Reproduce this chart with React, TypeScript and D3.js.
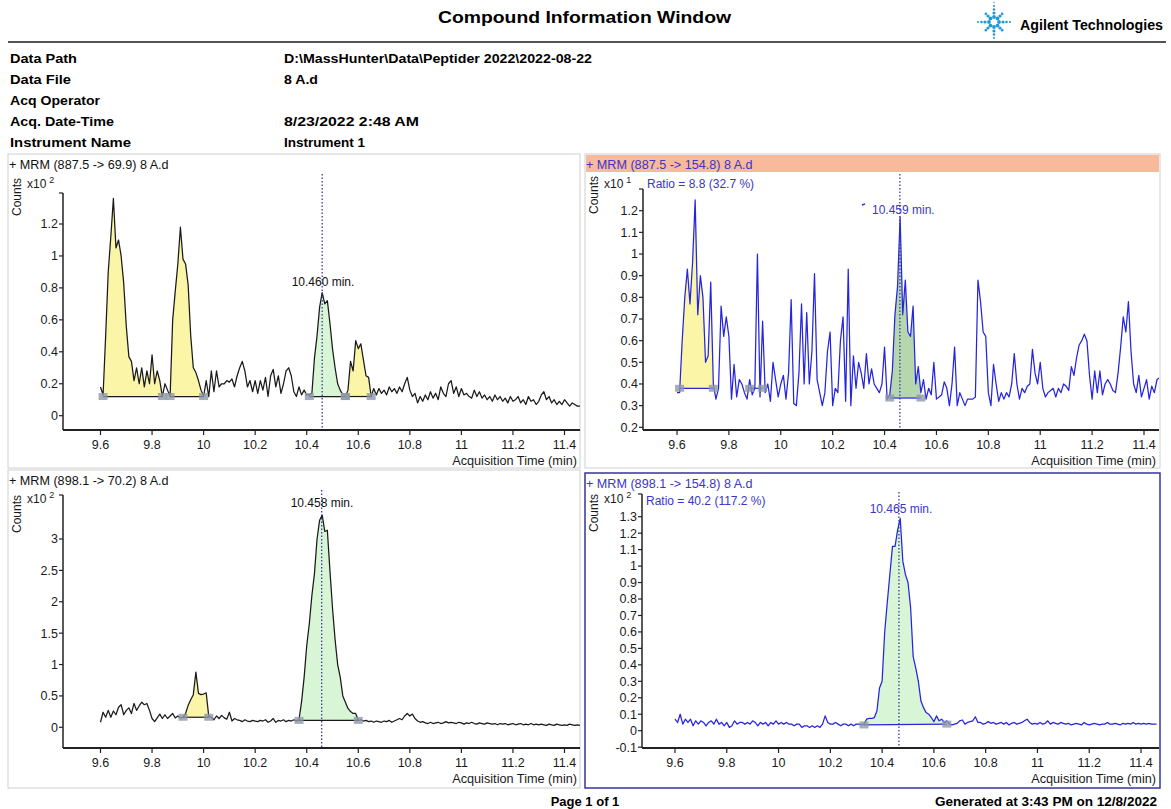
import React from 'react';
import * as d3 from 'd3';

// acquisition grid of the four MRM traces
const SCAN_START = 9.6;
const SCAN_STEP = 0.01;

// + MRM (887.5 -> 69.9), counts x10^2
const mrm887to69 = [
  0.18, 0.13, 0.50, 0.90, 1.12, 1.36, 1.05, 1.10, 1.00, 0.83,
  0.56, 0.37, 0.34, 0.22, 0.30, 0.20, 0.30, 0.18, 0.28, 0.20,
  0.38, 0.20, 0.28, 0.22, 0.12, 0.20, 0.16, 0.12, 0.60, 0.78,
  0.95, 1.18, 0.98, 0.95, 0.82, 0.50, 0.30, 0.27, 0.22, 0.16,
  0.12, 0.22, 0.12, 0.28, 0.15, 0.28, 0.18, 0.20, 0.20, 0.22,
  0.21, 0.23, 0.18, 0.25, 0.30, 0.34, 0.28, 0.18, 0.22, 0.15,
  0.22, 0.14, 0.22, 0.16, 0.24, 0.12, 0.25, 0.29, 0.18, 0.25,
  0.14, 0.20, 0.28, 0.30, 0.25, 0.15, 0.12, 0.18, 0.13, 0.16,
  0.13, 0.13, 0.14, 0.36, 0.50, 0.68, 0.77, 0.70, 0.72, 0.58,
  0.42, 0.30, 0.20, 0.16, 0.13, 0.12, 0.16, 0.34, 0.28, 0.47,
  0.42, 0.45, 0.35, 0.25, 0.24, 0.12, 0.17, 0.13, 0.17, 0.14,
  0.16, 0.13, 0.18, 0.15, 0.17, 0.14, 0.18, 0.15, 0.20, 0.24,
  0.16, 0.12, 0.14, 0.08, 0.12, 0.09, 0.13, 0.10, 0.15, 0.11,
  0.14, 0.10, 0.18, 0.14, 0.12, 0.20, 0.22, 0.14, 0.18, 0.12,
  0.17, 0.13, 0.14, 0.12, 0.11, 0.16, 0.12, 0.15, 0.11, 0.13,
  0.10, 0.12, 0.09, 0.13, 0.10, 0.12, 0.09, 0.11, 0.08, 0.12,
  0.09, 0.10, 0.12, 0.08, 0.10, 0.07, 0.12, 0.09, 0.10, 0.07,
  0.09, 0.13, 0.15, 0.10, 0.12, 0.08, 0.10, 0.07, 0.09, 0.07,
  0.10, 0.08, 0.06, 0.08, 0.07, 0.06, 0.06,
];

// + MRM (887.5 -> 154.8), counts x10^1
const mrm887to154 = [
  0.36, 0.36, 0.60, 0.80, 0.93, 0.77, 0.96, 1.25, 0.72, 0.90,
  0.80, 0.50, 0.53, 0.87, 0.40, 0.33, 0.38, 0.76, 0.62, 0.71,
  0.62, 0.33, 0.49, 0.34, 0.42, 0.40, 0.36, 0.33, 0.42, 0.35,
  0.38, 1.00, 0.34, 0.69, 0.36, 0.40, 0.32, 0.50, 0.42, 0.34,
  0.40, 0.44, 0.33, 0.45, 0.79, 0.31, 0.30, 0.45, 0.77, 0.40,
  0.73, 0.40, 0.55, 0.91, 0.42, 0.36, 0.30, 0.36, 0.55, 0.64,
  0.30, 0.38, 0.36, 0.60, 0.71, 0.32, 0.93, 0.30, 0.53, 0.38,
  0.50, 0.45, 0.38, 0.54, 0.40, 0.47, 0.40, 0.38, 0.36, 0.40,
  0.57, 0.33, 0.35, 0.46, 0.72, 0.85, 1.17, 0.72, 0.88, 0.64,
  0.62, 0.76, 0.40, 0.48, 0.36, 0.42, 0.33, 0.38, 0.35, 0.50,
  0.33, 0.34, 0.35, 0.41, 0.38, 0.30, 0.40, 0.57, 0.30, 0.36,
  0.33, 0.30, 0.33, 0.33, 0.33, 0.34, 0.88, 0.78, 0.64, 0.62,
  0.36, 0.30, 0.49, 0.40, 0.32, 0.36, 0.33, 0.36, 0.34, 0.40,
  0.54, 0.40, 0.33, 0.38, 0.36, 0.39, 0.40, 0.56, 0.45, 0.40,
  0.50, 0.38, 0.34, 0.36, 0.37, 0.38, 0.34, 0.38, 0.36, 0.40,
  0.39, 0.37, 0.48, 0.44, 0.52, 0.58, 0.60, 0.63, 0.60, 0.44,
  0.33, 0.46, 0.36, 0.46, 0.35, 0.40, 0.42, 0.40, 0.37, 0.36,
  0.45, 0.57, 0.71, 0.64, 0.78, 0.55, 0.40, 0.36, 0.44, 0.34,
  0.38, 0.42, 0.33, 0.39, 0.36, 0.42, 0.43,
];

// + MRM (898.1 -> 70.2), counts x10^2
const mrm898to70 = [
  0.08, 0.24, 0.16, 0.27, 0.16, 0.26, 0.20, 0.32, 0.36, 0.20,
  0.27, 0.31, 0.22, 0.38, 0.27, 0.34, 0.40, 0.36, 0.38, 0.27,
  0.14, 0.09, 0.15, 0.21, 0.14, 0.20, 0.14, 0.18, 0.22, 0.15,
  0.18, 0.15, 0.16, 0.22, 0.35, 0.44, 0.52, 0.88, 0.54, 0.52,
  0.53, 0.55, 0.17, 0.16, 0.12, 0.18, 0.14, 0.19, 0.15, 0.13,
  0.24, 0.10, 0.14, 0.12, 0.11, 0.09, 0.12, 0.10, 0.09, 0.11,
  0.10, 0.09, 0.11, 0.10, 0.12, 0.08, 0.10, 0.14, 0.08, 0.11,
  0.10, 0.12, 0.09, 0.11, 0.10, 0.12, 0.10, 0.12, 0.41, 0.80,
  1.30, 1.65, 2.10, 2.45, 3.00, 3.30, 3.38, 3.12, 3.14, 2.50,
  1.90, 1.40, 1.00, 0.80, 0.50, 0.40, 0.30, 0.25, 0.22, 0.22,
  0.11, 0.12, 0.10, 0.11, 0.09, 0.10, 0.08, 0.10, 0.09, 0.08,
  0.10, 0.09, 0.11, 0.08, 0.10, 0.12, 0.14, 0.12, 0.18, 0.22,
  0.18, 0.21, 0.14, 0.10, 0.08, 0.09, 0.07, 0.06, 0.08, 0.06,
  0.07, 0.08, 0.06, 0.07, 0.09, 0.07, 0.08, 0.07, 0.06, 0.08,
  0.07, 0.05, 0.07, 0.06, 0.08, 0.06, 0.05, 0.07, 0.06, 0.05,
  0.07, 0.06, 0.05, 0.06, 0.04, 0.06, 0.05, 0.06, 0.04, 0.05,
  0.06, 0.04, 0.05, 0.06, 0.04, 0.05, 0.04, 0.06, 0.04, 0.05,
  0.04, 0.05, 0.04, 0.03, 0.05, 0.04, 0.03, 0.05, 0.04, 0.03,
  0.04, 0.03, 0.05, 0.04, 0.03, 0.04, 0.03,
];

// + MRM (898.1 -> 154.8), counts x10^2
const mrm898to154 = [
  0.07, 0.05, 0.10, 0.04, 0.07, 0.05, 0.07, 0.03, 0.06, 0.04,
  0.06, 0.05, 0.03, 0.05, 0.06, 0.04, 0.07, 0.04, 0.05, 0.03,
  0.05, 0.02, 0.03, 0.06, 0.04, 0.05, 0.05, 0.04, 0.05, 0.04,
  0.06, 0.05, 0.03, 0.05, 0.04, 0.05, 0.03, 0.05, 0.04, 0.06,
  0.04, 0.05, 0.04, 0.05, 0.04, 0.04, 0.03, 0.04, 0.04, 0.02,
  0.03, 0.03, 0.02, 0.03, 0.02, 0.03, 0.02, 0.04, 0.09, 0.05,
  0.04, 0.04, 0.05, 0.04, 0.03, 0.04, 0.04, 0.03, 0.04, 0.03,
  0.04, 0.04, 0.035, 0.04, 0.07, 0.075, 0.075, 0.08, 0.12, 0.26,
  0.30, 0.60, 0.78, 0.95, 1.12, 1.12, 1.22, 1.29, 1.03, 0.95,
  0.90, 0.75, 0.45, 0.38, 0.30, 0.18, 0.14, 0.11, 0.10, 0.08,
  0.055, 0.09, 0.06, 0.07, 0.05, 0.06, 0.04, 0.035, 0.04, 0.045,
  0.06, 0.065, 0.04, 0.05, 0.055, 0.06, 0.085, 0.05, 0.05, 0.04,
  0.045, 0.055, 0.045, 0.05, 0.04, 0.045, 0.05, 0.04, 0.05, 0.035,
  0.045, 0.05, 0.04, 0.045, 0.05, 0.06, 0.07, 0.05, 0.04, 0.045,
  0.04, 0.05, 0.04, 0.045, 0.06, 0.04, 0.05, 0.045, 0.04, 0.05,
  0.045, 0.04, 0.045, 0.035, 0.04, 0.045, 0.04, 0.035, 0.05, 0.04,
  0.035, 0.04, 0.045, 0.04, 0.035, 0.04, 0.04, 0.05, 0.04, 0.04,
  0.045, 0.04, 0.035, 0.045, 0.04, 0.045, 0.04, 0.05, 0.04, 0.045,
  0.04, 0.045, 0.04, 0.045, 0.04, 0.04, 0.04,
];

const timeTicks = [9.6, 9.8, 10, 10.2, 10.4, 10.6, 10.8, 11, 11.2, 11.4];
const countTicks887to69 = [0, 0.2, 0.4, 0.6, 0.8, 1, 1.2];
const countTicks887to154 = [0.2, 0.3, 0.4, 0.5, 0.6, 0.7, 0.8, 0.9, 1, 1.1, 1.2];
const countTicks898to70 = [0, 0.5, 1, 1.5, 2, 2.5, 3];
const countTicks898to154 = [-0.1, 0, 0.1, 0.2, 0.3, 0.4, 0.5, 0.6, 0.7, 0.8, 0.9, 1, 1.1, 1.2, 1.3];

// integrated peaks: start / end time, baseline counts at both ends, kind
const peaks887to69 = [
  { start: 9.61, end: 9.84, base: [0.12, 0.12], kind: 'qualifier' },
  { start: 9.87, end: 10.0, base: [0.12, 0.12], kind: 'qualifier' },
  { start: 10.41, end: 10.55, base: [0.12, 0.12], kind: 'target' },
  { start: 10.55, end: 10.65, base: [0.12, 0.12], kind: 'qualifier' },
];
const peaks887to154 = [
  { start: 9.61, end: 9.74, base: [0.38, 0.38], kind: 'qualifier' },
  { start: 9.88, end: 9.93, base: [0.38, 0.38], kind: 'none' },
  { start: 10.42, end: 10.54, base: [0.335, 0.335], kind: 'targetDark' },
];
const peaks898to70 = [
  { start: 9.92, end: 10.02, base: [0.16, 0.16], kind: 'qualifier' },
  { start: 10.37, end: 10.6, base: [0.11, 0.11], kind: 'target' },
];
const peaks898to154 = [
  { start: 10.33, end: 10.65, base: [0.035, 0.04], kind: 'target' },
];

const infoLabels = ['Data Path', 'Data File', 'Acq Operator', 'Acq. Date-Time', 'Instrument Name'];
const infoValues = ['D:\\MassHunter\\Data\\Peptider 2022\\2022-08-22', '8 A.d', '', '8/23/2022 2:48 AM', 'Instrument 1'];
const infoLabelWidths = [67, 61, 90, 104, 121];
const infoValueWidths = [308, 34, 0, 135, 81];

const FONT = "'Liberation Sans', Arial, sans-serif";
const BLUE_TRACE = '#2525e0';
const BLUE_TEXT = '#3a36c8';
const FILLS = {
  qualifier: '#fbf5a8',
  target: '#d8f5d6',
  targetDark: '#a9d0a0',
  none: 'none',
};

const fmt = (d) => String(Math.round(d * 10) / 10);

function Panel({ id, frame, title, titleColor, titleBg, border, axisX, axisTop, axisY, plotRight,
  xRange, yDomain, yRange, yTicks, values, color, peaks, rt, rtLabel, rtLabelPos, rtTop,
  ratio, ratioY, exponent, countsY, expY }) {
  const x = d3.scaleLinear().domain([9.6, 11.4]).range(xRange);
  const y = d3.scaleLinear().domain(yDomain).range(yRange);
  const pts = values.map((v, i) => [SCAN_START + i * SCAN_STEP, v]);
  const line = d3.line().x(d => x(d[0])).y(d => y(d[1]));

  const peakShapes = peaks.map((p, k) => {
    const inside = pts.filter(d => d[0] >= p.start - 1e-6 && d[0] <= p.end + 1e-6);
    const baseAt = (t) => p.base[0] + (p.base[1] - p.base[0]) * (t - p.start) / (p.end - p.start);
    const area = d3.area().x(d => x(d[0])).y0(d => y(baseAt(d[0]))).y1(d => y(d[1]));
    return (
      <g key={k}>
        {p.kind !== 'none' && (
          <path d={area(inside)} fill={FILLS[p.kind]} opacity={p.kind === 'targetDark' ? 0.85 : 1} />
        )}
        <line x1={x(p.start)} x2={x(p.end)} y1={y(p.base[0])} y2={y(p.base[1])} stroke={color} strokeWidth={1.2} />
      </g>
    );
  });
  const markers = peaks.flatMap((p, k) => [
    <rect key={'a' + k} x={x(p.start) - 4.5} y={y(p.base[0]) - 3.5} width={9} height={7} fill="#8f98aa" opacity={0.8} />,
    <rect key={'b' + k} x={x(p.end) - 4.5} y={y(p.base[1]) - 3.5} width={9} height={7} fill="#8f98aa" opacity={0.8} />,
  ]);

  const tickColor = '#222';
  return (
    <g fontFamily={FONT}>
      <rect x={frame[0]} y={frame[1]} width={frame[2]} height={frame[3]} fill="#fff"
        stroke={border || '#cfcfcf'} strokeWidth={border ? 1.5 : 1} />
      {titleBg && <rect x={frame[0] + 1} y={frame[1] + 1} width={frame[2] - 2} height={17} fill={titleBg} />}
      <text x={frame[0] + 1} y={frame[1] + 15} fontSize={12.6} fill={titleColor}>{title}</text>

      <clipPath id={id}>
        <rect x={axisX + 1} y={axisTop - 30} width={plotRight - axisX - 1} height={axisY - axisTop + 29} />
      </clipPath>
      <g clipPath={`url(#${id})`}>
        {peakShapes}
        <path d={line(pts)} fill="none" stroke={color} strokeWidth={1.25} strokeLinejoin="round" />
        {markers}
      </g>

      <line x1={x(rt)} x2={x(rt)} y1={rtTop} y2={axisY} stroke="#3a3aa0" strokeWidth={1.3} strokeDasharray="1.5 2" />
      <text x={rtLabelPos[0]} y={rtLabelPos[1]} fontSize={12} fill={titleColor}
        textAnchor={rtLabelPos[2] || 'middle'}>{rtLabel}</text>
      {ratio && <text x={axisX + 4} y={ratioY} fontSize={12} fill={BLUE_TEXT}>{ratio}</text>}

      {/* axes */}
      <line x1={axisX} x2={axisX} y1={axisTop} y2={axisY} stroke={tickColor} strokeWidth={1.5} />
      <line x1={axisX} x2={plotRight} y1={axisY} y2={axisY} stroke={tickColor} strokeWidth={2} />
      <line x1={axisX - 4} x2={axisX} y1={axisTop} y2={axisTop} stroke={tickColor} strokeWidth={1.2} />
      {yTicks.map(v => (
        <g key={v}>
          <line x1={axisX - 4} x2={axisX} y1={y(v)} y2={y(v)} stroke={tickColor} strokeWidth={1.2} />
          <text x={axisX - 5} y={y(v)} dy="0.35em" fontSize={12.5} textAnchor="end" fill="#1a1a1a">{fmt(v)}</text>
        </g>
      ))}
      {timeTicks.map(v => (
        <g key={v}>
          <line x1={x(v)} x2={x(v)} y1={axisY} y2={axisY + 5} stroke={tickColor} strokeWidth={1.2} />
          <text x={x(v)} y={axisY + 18.5} fontSize={12.5} textAnchor="middle" fill="#1a1a1a">{fmt(v)}</text>
        </g>
      ))}
      <text x={plotRight - 3} y={axisY + 34.5} fontSize={12.7} textAnchor="end" fill="#1a1a1a">Acquisition Time (min)</text>
      <text transform={`translate(${frame[0] + 9},${countsY}) rotate(-90)`} fontSize={12} textAnchor="middle"
        dy="0.35em" fill="#1a1a1a">Counts</text>
      <text x={frame[0] + 19} y={expY} fontSize={12} fill="#1a1a1a">x10<tspan dx={3} dy={-5} fontSize={9}>{exponent}</tspan></text>
    </g>
  );
}

function AgilentSpark({ cx, cy }) {
  const spokes = d3.range(8).map(i => i * Math.PI / 4);
  const dots = [];
  spokes.forEach((a, i) => {
    const vertical = i === 2 || i === 6;
    const horizontal = i === 0 || i === 4;
    const dists = vertical ? [5, 9, 12.5, 16, 19.5] : horizontal ? [5, 9, 12.5, 16] : [5, 8.5, 11.5];
    dists.forEach((r, j) => {
      dots.push({ x: cx + r * Math.cos(a), y: cy + r * Math.sin(a), r: Math.max(0.7, 1.9 - j * 0.3) });
    });
  });
  return (
    <g fill="#1e9ad6">
      {dots.map((d, i) => <circle key={i} cx={d.x} cy={d.y} r={d.r} />)}
    </g>
  );
}

export default function App() {
  return (
    <svg width={1171} height={809} style={{ position: 'absolute', left: 0, top: 0, background: '#fff' }}>
      <rect width={1171} height={809} fill="#fff" />
      <text x={438} y={23} fontFamily={FONT} fontWeight="bold" fontSize={17} textLength={293}
        lengthAdjust="spacingAndGlyphs">Compound Information Window</text>
      <AgilentSpark cx={994} cy={22} />
      <text x={1020} y={30} fontFamily={FONT} fontWeight="bold" fontSize={14} textLength={143}
        lengthAdjust="spacingAndGlyphs">Agilent Technologies</text>
      <line x1={8} x2={1166} y1={42} y2={42} stroke="#555" strokeWidth={2} />

      {infoLabels.map((l, i) => (
        <g key={l} fontFamily={FONT} fontWeight="bold" fontSize={13}>
          <text x={10} y={63 + i * 21} textLength={infoLabelWidths[i]} lengthAdjust="spacingAndGlyphs">{l}</text>
          {infoValues[i] && (
            <text x={284} y={63 + i * 21} textLength={infoValueWidths[i]} lengthAdjust="spacingAndGlyphs">{infoValues[i]}</text>
          )}
        </g>
      ))}

      <Panel id="c1" frame={[8, 154, 572, 314]} title="+ MRM (887.5 -> 69.9) 8 A.d" titleColor="#111"
        axisX={63} axisTop={193} axisY={430} plotRight={580} xRange={[100.5, 564.5]}
        yDomain={[0, 1.2]} yRange={[415.7, 224]} yTicks={countTicks887to69}
        values={mrm887to69} color="#1a1a1a" peaks={peaks887to69}
        rt={10.46} rtLabel="10.460 min." rtLabelPos={[323, 286]} rtTop={174}
        exponent="2" countsY={197} expY={188} />

      <Panel id="c2" frame={[585, 154, 575, 314]} title="+ MRM (887.5 -> 154.8) 8 A.d" titleColor={BLUE_TEXT}
        titleBg="#f9b99b"
        axisX={643} axisTop={189} axisY={430} plotRight={1159} xRange={[677, 1144]}
        yDomain={[0.2, 1.2]} yRange={[427.3, 210.7]} yTicks={countTicks887to154}
        values={mrm887to154} color={BLUE_TRACE} peaks={peaks887to154}
        rt={10.459} rtLabel="10.459 min." rtLabelPos={[872, 214, 'start']} rtTop={174}
        ratio="Ratio = 8.8 (32.7 %)" ratioY={188}
        exponent="1" countsY={195} expY={188} />

      <Panel id="c3" frame={[8, 470, 572, 318]} title="+ MRM (898.1 -> 70.2) 8 A.d" titleColor="#111"
        axisX={63} axisTop={495} axisY={748} plotRight={580} xRange={[100.5, 564.5]}
        yDomain={[0, 3]} yRange={[727.3, 539]} yTicks={countTicks898to70}
        values={mrm898to70} color="#1a1a1a" peaks={peaks898to70}
        rt={10.458} rtLabel="10.458 min." rtLabelPos={[322, 507]} rtTop={490}
        exponent="2" countsY={514} expY={503} />

      <Panel id="c4" frame={[585, 473, 575, 315]} title="+ MRM (898.1 -> 154.8) 8 A.d" titleColor={BLUE_TEXT}
        border="#34349a"
        axisX={642} axisTop={494} axisY={748} plotRight={1159} xRange={[675, 1141]}
        yDomain={[0, 1.3]} yRange={[730.7, 516.7]} yTicks={countTicks898to154}
        values={mrm898to154} color={BLUE_TRACE} peaks={peaks898to154}
        rt={10.465} rtLabel="10.465 min." rtLabelPos={[901, 513]} rtTop={492}
        ratio="Ratio = 40.2 (117.2 %)" ratioY={505}
        exponent="2" countsY={513} expY={503} />

      <line x1={862} x2={865} y1={205} y2={204} stroke={BLUE_TEXT} strokeWidth={1.5} />

      <text x={585} y={806} fontFamily={FONT} fontWeight="bold" fontSize={13} textAnchor="middle">Page 1 of 1</text>
      <text x={935} y={806} fontFamily={FONT} fontWeight="bold" fontSize={13} textLength={222}
        lengthAdjust="spacingAndGlyphs">Generated at 3:43 PM on 12/8/2022</text>
    </svg>
  );
}
